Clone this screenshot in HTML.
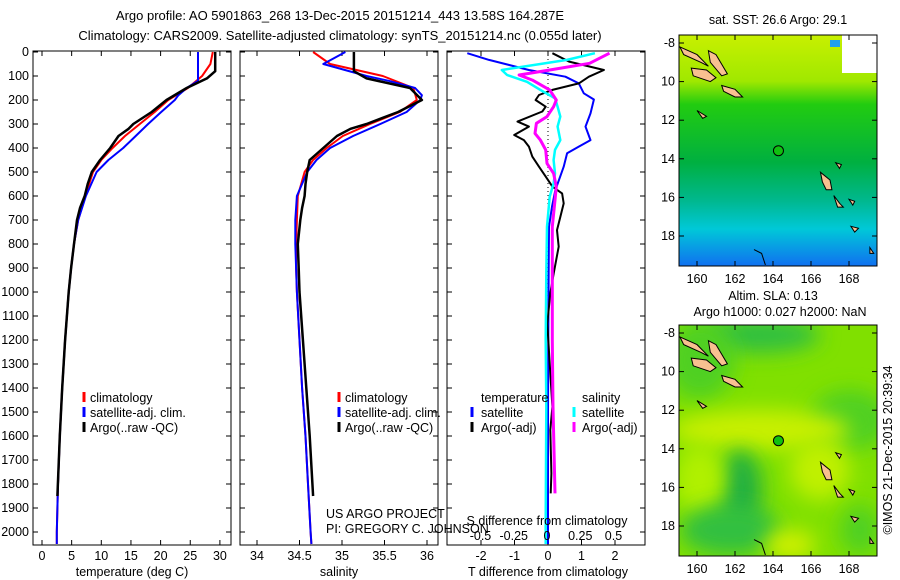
<!DOCTYPE html>
<html><head><meta charset="utf-8">
<style>
html,body{margin:0;padding:0;background:#fff;}
svg{display:block;font-family:"Liberation Sans",sans-serif;}
text{font-size:12.5px;fill:#000;}
</style></head>
<body>
<svg id="fig" width="900" height="580" viewBox="0 0 900 580" xmlns="http://www.w3.org/2000/svg">
  <defs>
    <linearGradient id="sstGrad" x1="0" y1="0" x2="0" y2="1">
      <stop offset="0" stop-color="#c8f000"/>
      <stop offset="0.2" stop-color="#a0e800"/>
      <stop offset="0.3" stop-color="#22cc10"/>
      <stop offset="0.55" stop-color="#00b040"/>
      <stop offset="0.72" stop-color="#00b890"/>
      <stop offset="0.84" stop-color="#00c8d8"/>
      <stop offset="1" stop-color="#1070f0"/>
    </linearGradient>
    <filter id="blur8" x="-100%" y="-100%" width="300%" height="300%"><feGaussianBlur stdDeviation="10"/></filter>
    <clipPath id="clipTop"><rect x="679" y="35" width="198" height="231"/></clipPath>
    <clipPath id="clipBot"><rect x="679" y="325" width="198" height="231"/></clipPath>
  </defs>
  <text x="340" y="20" text-anchor="middle" style="font-size:13px">Argo profile: AO 5901863_268 13-Dec-2015 20151214_443 13.58S 164.287E</text>
  <text x="340" y="40" text-anchor="middle" style="font-size:13px">Climatology: CARS2009. Satellite-adjusted climatology: synTS_20151214.nc (0.055d later)</text>
  <g id="panels"></g>
  <g id="maps"></g>
  <text transform="translate(892,450) rotate(-90)" text-anchor="middle">©IMOS 21-Dec-2015 20:39:34</text>
</svg>
<script>
// ---------- DATA ----------
const depthTicks = [0,100,200,300,400,500,600,700,800,900,1000,1100,1200,1300,1400,1500,1600,1700,1800,1900,2000];
const tempTicks = [0,5,10,15,20,25,30];
const salTicks = [34,34.5,35,35.5,36];
const salTickLabels = ["34","34.5","35","35.5","36"];
const dTTicks = [-2,-1,0,1,2];
const dSTicks = [-0.5,-0.25,0,0.25,0.5];
const dSTickLabels = ["-0.5","-0.25","0","0.25","0.5"];

const climDepth = [0,50,100,150,200,250,300,350,400,450,500,600,700,800,900,1000,1200,1400,1600,1800,2000,2050];
const climTemp  = [28.8,28.4,27.0,24.6,21.3,19.0,16.5,14.0,11.9,10.0,8.6,7.3,6.1,5.4,4.9,4.5,3.9,3.4,3.0,2.7,2.5,2.5];
const climSal   = [34.66,34.86,35.48,35.84,35.88,35.68,35.33,35.01,34.82,34.66,34.56,34.48,34.47,34.46,34.46,34.47,34.50,34.53,34.57,34.60,34.63,34.64];

const satDepth = [0,50,100,120,150,180,200,250,300,350,400,450,500,600,700,800,900,1000,1200,1400,1600,1800,2000,2050];
const satTemp  = [26.3,26.3,26.3,26.3,24.4,23.0,22.4,20.1,17.9,15.8,13.7,11.2,9.2,7.4,6.1,5.4,4.9,4.5,3.9,3.4,3.0,2.7,2.5,2.5];
const satSal   = [35.04,34.78,35.29,35.55,35.86,35.94,35.92,35.76,35.45,35.13,34.86,34.70,34.59,34.47,34.45,34.45,34.46,34.47,34.50,34.53,34.57,34.60,34.63,34.64];

const argoDepth = [0,80,110,150,200,250,300,320,350,400,450,500,550,600,650,700,800,900,1000,1200,1400,1600,1850];
const argoTemp  = [29.2,29.2,27.8,24.4,21.0,18.5,15.4,14.6,12.9,11.5,9.8,8.4,7.7,7.2,6.4,5.9,5.4,4.9,4.5,3.9,3.4,3.0,2.6];
const argoSal   = [35.14,35.14,35.29,35.80,35.94,35.66,35.29,35.10,34.94,34.78,34.62,34.59,34.57,34.56,34.53,34.51,34.48,34.49,34.50,34.54,34.58,34.62,34.66];

const dTsatDepth = [5,33,75,103,131,172,198,256,311,367,394,422,478,575,644,728,900,1200,1500,1800,2050];
const dTsat      = [-2.41,-1.76,-0.57,0.52,0.92,1.07,1.37,1.27,1.12,1.27,0.92,0.57,0.47,0.22,0.12,0.03,0.02,0.01,0.0,0.0,0.0];
const dTargoDepth = [5,40,75,103,131,158,179,200,228,248,290,311,346,367,394,436,478,519,561,589,631,686,742,811,922,1006,1131,1339,1478,1575,1756,1839];
const dTargo      = [0.13,0.63,1.67,1.22,0.92,0.13,-0.27,-0.37,-0.07,-0.17,-0.91,-0.57,-1.01,-0.72,-0.57,-0.47,-0.27,-0.07,0.13,0.42,0.47,0.37,0.27,0.32,0.17,0.07,-0.02,0.07,0.13,0.07,0.10,0.08];
const dSsatDepth = [5,33,75,96,124,158,193,228,269,311,367,408,450,506,547,603,728,922,1200,1478,1950,2050];
const dSsat      = [0.36,0.15,-0.34,-0.30,-0.15,-0.05,0.06,0.08,0.10,0.08,0.10,0.06,0.05,0.06,0.05,0.02,0.0,-0.005,-0.01,-0.005,-0.01,-0.01];
const dSargoDepth = [5,47,75,96,117,158,200,228,269,297,339,367,408,464,506,561,617,728,922,1200,1478,1839];
const dSargo      = [0.47,0.32,0.02,-0.21,-0.11,0.02,0.07,0.05,0.0,-0.08,-0.09,-0.05,-0.01,0.0,0.05,0.07,0.06,0.04,0.04,0.04,0.045,0.06];

// ---------- HELPERS ----------
const NS = "http://www.w3.org/2000/svg";
const gP = document.getElementById('panels');
function mk(tag, attrs, parent){const e=document.createElementNS(NS,tag);for(const k in attrs)e.setAttribute(k,attrs[k]);(parent||gP).appendChild(e);return e;}
const TOP=51, BOT=545;
function yD(d){return 52 + d*0.24;}
function xT(t){return 42 + t*5.93;}
function xS(s){return 257 + (s-34)*85;}
function xdT(v){return 548 + v*33.5;}
function xdS(v){return 547 + v*133;}
function line(xs, ds, fx, color, w, name){
  const pts = xs.map((v,i)=>fx(v).toFixed(1)+","+yD(ds[i]).toFixed(1)).join(" ");
  const p = mk('polyline',{points:pts,fill:'none',stroke:color,'stroke-width':w,'stroke-linejoin':'round'});
  
  
}
function frame(x0,x1,name){
  const r = mk('rect',{x:x0,y:TOP,width:x1-x0,height:BOT-TOP,fill:'#fff',stroke:'#000','stroke-width':1});
  
  
}
function txt(x,y,s,anchor,name,size){
  const t = mk('text',{x:x,y:y,'text-anchor':anchor||'start'});
  if(size) t.style.fontSize=size+'px';
  t.textContent=s;
  
  
  return t;
}
function xticks(vals, labels, fx, x0, name){
  vals.forEach((v,i)=>{
    const x=fx(v);
    mk('line',{x1:x,x2:x,y1:BOT,y2:BOT-5,stroke:'#000'});
    mk('line',{x1:x,x2:x,y1:TOP,y2:TOP+5,stroke:'#000'});
    txt(x,BOT+15,labels[i],'middle',name);
  });
}
function legendTick(x,y,color,name){
  const l = mk('line',{x1:x,x2:x,y1:y-10,y2:y,stroke:color,'stroke-width':3});
  
  
}

// ---------- PANEL 1: temperature ----------
frame(33,231,'temperature-panel');
depthTicks.forEach(d=>{
  mk('line',{x1:33,x2:38,y1:yD(d),y2:yD(d),stroke:'#000'});
  mk('line',{x1:226,x2:231,y1:yD(d),y2:yD(d),stroke:'#000'});
  txt(29,yD(d)+4,String(d),'end','depth-tick-label');
});
xticks(tempTicks, tempTicks.map(String), xT, 33, 'temperature-tick-label');
line(climTemp, climDepth, xT, '#ff0000', 2, 'temp-climatology-line');
line(satTemp, satDepth, xT, '#0000ff', 2, 'temp-satellite-line');
line(argoTemp, argoDepth, xT, '#000000', 2.5, 'temp-argo-line');
txt(132,576,'temperature (deg C)','middle','temperature-axis-title');
[['climatology','#ff0000'],['satellite-adj. clim.','#0000ff'],['Argo(..raw -QC)','#000']].forEach((e,i)=>{
  legendTick(84,402+i*15,e[1],'temp-legend-swatch');
  txt(90,402+i*15,e[0],'start','temp-legend-entry');
});

// ---------- PANEL 2: salinity ----------
frame(240,438,'salinity-panel');
depthTicks.forEach(d=>{
  mk('line',{x1:240,x2:245,y1:yD(d),y2:yD(d),stroke:'#000'});
  mk('line',{x1:433,x2:438,y1:yD(d),y2:yD(d),stroke:'#000'});
});
xticks(salTicks, salTickLabels, xS, 240, 'salinity-tick-label');
line(climSal, climDepth, xS, '#ff0000', 2, 'sal-climatology-line');
line(satSal, satDepth, xS, '#0000ff', 2, 'sal-satellite-line');
line(argoSal, argoDepth, xS, '#000000', 2.5, 'sal-argo-line');
txt(339,576,'salinity','middle','salinity-axis-title');
[['climatology','#ff0000'],['satellite-adj. clim.','#0000ff'],['Argo(..raw -QC)','#000']].forEach((e,i)=>{
  legendTick(339,402+i*15,e[1],'sal-legend-swatch');
  txt(345,402+i*15,e[0],'start','sal-legend-entry');
});

// ---------- PANEL 3: differences ----------
frame(447,645,'difference-panel');
depthTicks.forEach(d=>{
  mk('line',{x1:447,x2:452,y1:yD(d),y2:yD(d),stroke:'#000'});
  mk('line',{x1:640,x2:645,y1:yD(d),y2:yD(d),stroke:'#000'});
});
xticks(dTTicks, dTTicks.map(String), xdT, 447, 'dT-tick-label');
mk('line',{x1:xdT(0),x2:xdT(0),y1:TOP,y2:BOT,stroke:'#000','stroke-dasharray':'1,3'});
line(dTsat, dTsatDepth, xdT, '#0000ff', 2, 'dT-satellite-line');
line(dTargo, dTargoDepth, xdT, '#000000', 2, 'dT-argo-line');
line(dSsat, dSsatDepth, xdS, '#00ffff', 2.5, 'dS-satellite-line');
line(dSargo, dSargoDepth, xdS, '#ff00ff', 3, 'dS-argo-line');
txt(547,525,'S difference from climatology','middle','dS-axis-title');
dSTicks.forEach((v,i)=>txt(xdS(v),540,dSTickLabels[i],'middle','dS-tick-label'));
txt(548,576,'T difference from climatology','middle','dT-axis-title');
txt(481,402,'temperature','start','dT-legend-header');
txt(582,402,'salinity','start','dS-legend-header');
legendTick(472,417,'#0000ff','dT-sat-swatch'); txt(481,417,'satellite','start','dT-legend-entry');
legendTick(472,432,'#000','dT-argo-swatch'); txt(481,432,'Argo(-adj)','start','dT-legend-entry');
legendTick(574,417,'#00ffff','dS-sat-swatch'); txt(582,417,'satellite','start','dS-legend-entry');
legendTick(574,432,'#ff00ff','dS-argo-swatch'); txt(582,432,'Argo(-adj)','start','dS-legend-entry');
txt(326,518,'US ARGO PROJECT','start','project-label');
txt(326,533,'PI: GREGORY C. JOHNSON','start','pi-label');

// ---------- MAPS ----------
const gM = document.getElementById('maps');
const lonTicks = [160,162,164,166,168];
const latTicks = [-8,-10,-12,-14,-16,-18];
const latLabels = ["-8","10","12","14","16","18"];
function mx(lon){return 697 + (lon-160)*19;}
function islands(lat0y, g){
  const my = lat => lat0y + (-8-lat)*19.3;
  const shapes = [
    [[159.1,-8.2],[160.0,-8.6],[160.6,-9.2],[160.2,-9.0],[159.3,-8.6]],
    [[160.6,-8.4],[161.0,-8.6],[161.6,-9.6],[161.3,-9.7],[160.7,-9.0]],
    [[159.7,-9.3],[160.5,-9.4],[161.0,-9.8],[160.7,-10.0],[159.8,-9.7]],
    [[161.3,-10.2],[162.0,-10.4],[162.4,-10.8],[162.0,-10.8],[161.4,-10.5]],
    [[160.0,-11.5],[160.5,-11.8],[160.3,-11.9]],
    [[166.5,-14.7],[167.0,-15.1],[167.1,-15.6],[166.8,-15.6],[166.6,-15.2]],
    [[167.2,-15.9],[167.5,-16.3],[167.7,-16.5],[167.4,-16.5]],
    [[168.0,-16.1],[168.3,-16.2],[168.2,-16.4]],
    [[168.1,-17.5],[168.5,-17.6],[168.3,-17.8]],
    [[169.1,-18.6],[169.3,-18.9],[169.1,-18.9]],
    [[167.3,-14.2],[167.6,-14.3],[167.5,-14.5]]
  ];
  shapes.forEach(s=>{
    const p=mk('polygon',{points:s.map(q=>mx(q[0]).toFixed(1)+','+my(q[1]).toFixed(1)).join(' '),fill:'#f8c090',stroke:'#000','stroke-width':1},g);
    
    
  });
  const c = mk('polyline',{points:[[163.0,-18.7],[163.4,-18.9],[163.6,-19.5]].map(q=>mx(q[0])+','+my(q[1])).join(' '),fill:'none',stroke:'#000'},g);
  
  
  const f = mk('circle',{cx:mx(164.287),cy:my(-13.58),r:5,fill:'none',stroke:'#000'},g);
  
  
  return f;
}
function mapAxes(y0, lat0y, name){
  const r = mk('rect',{x:679,y:y0,width:198,height:231,fill:'none',stroke:'#000'},gM);
  
  
  lonTicks.forEach(l=>{
    mk('line',{x1:mx(l),x2:mx(l),y1:y0+231,y2:y0+226,stroke:'#000'},gM);
    mk('line',{x1:mx(l),x2:mx(l),y1:y0,y2:y0+5,stroke:'#000'},gM);
    const t=mk('text',{x:mx(l),y:y0+248,'text-anchor':'middle'},gM);t.textContent=l;
    
    
  });
  latTicks.forEach((l,i)=>{
    const y=lat0y+(-8-l)*19.3;
    mk('line',{x1:679,x2:684,y1:y,y2:y,stroke:'#000'},gM);
    mk('line',{x1:872,x2:877,y1:y,y2:y,stroke:'#000'},gM);
    const t=mk('text',{x:675,y:y+4,'text-anchor':'end'},gM);t.textContent=latLabels[i];
    
    
  });
}
// top SST map
const gT = mk('g',{'clip-path':'url(#clipTop)'},gM);
mk('rect',{x:679,y:35,width:198,height:231,fill:'url(#sstGrad)'},gT);
mk('rect',{x:842,y:35,width:36,height:38,fill:'#fff'},gT);
mk('rect',{x:830,y:40,width:10,height:7,fill:'#20a0f0'},gT);
const f1=islands(43,gT); f1.setAttribute('fill','#10c010');
mapAxes(35,43,'sst-map');
let t1=mk('text',{x:778,y:24,'text-anchor':'middle'},gM);t1.textContent='sat. SST: 26.6 Argo: 29.1';


// bottom SLA map
const gB = mk('g',{'clip-path':'url(#clipBot)'},gM);
mk('rect',{x:679,y:325,width:198,height:231,fill:'#80e000'},gB);
const blobs=[[760,335,60,18,'#30c040'],[700,360,35,40,'#50d020'],[850,420,40,30,'#50d020'],[760,430,90,20,'#c8f000'],[740,490,22,40,'#20b040'],[820,470,30,30,'#c0f000'],[700,480,25,35,'#b0f000'],[730,530,50,25,'#30c040'],[790,545,25,15,'#d0f000'],[860,530,20,25,'#50d020']];
blobs.forEach(b=>{const e=mk('ellipse',{cx:b[0],cy:b[1],rx:b[2],ry:b[3],fill:b[4],filter:'url(#blur8)'},gB);
  
  });
const f2=islands(333,gB); f2.setAttribute('fill','#10c010');
mapAxes(325,333,'sla-map');
let t2=mk('text',{x:773,y:300,'text-anchor':'middle'},gM);t2.textContent='Altim. SLA: 0.13';


let t3=mk('text',{x:780,y:316,'text-anchor':'middle'},gM);t3.textContent='Argo h1000: 0.027 h2000: NaN';


</script>
</body></html>
